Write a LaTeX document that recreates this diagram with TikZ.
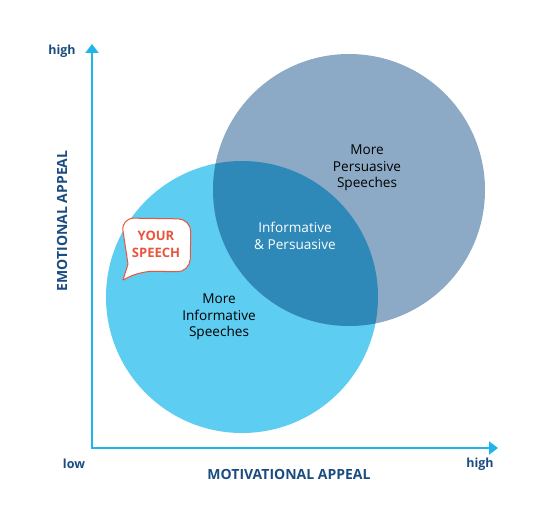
\documentclass[tikz,border=0pt]{standalone}
\usepackage{fontspec}
\setmainfont{Open Sans}
\usetikzlibrary{arrows.meta}
\definecolor{cgray}{HTML}{8CAAC5}
\definecolor{clight}{HTML}{5DCDF1}
\definecolor{cdark}{HTML}{2E89B9}
\definecolor{caxis}{HTML}{1FB5EA}
\definecolor{clabel}{HTML}{1B4C80}
\definecolor{cred}{HTML}{E8553C}
\tikzset{
  axisline/.style={draw=caxis, line width=2.6pt, -{Triangle[width=13pt,length=9pt]}},
  axislabel/.style={text=clabel, font=\bfseries\fontsize{14}{16}\selectfont},
  tick/.style={text=clabel, font=\bfseries\fontsize{12.5}{14}\selectfont},
  circtext/.style={align=center, font=\fontsize{13.6}{16.5}\selectfont},
  bubbletext/.style={align=center, text=cred, font=\bfseries\fontsize{13}{17}\selectfont},
}
\begin{document}
\begin{tikzpicture}[x=1pt,y=-1pt]
\useasboundingbox (0,0) rectangle (556,519);
% circles
\fill[clight] (242,297) circle (136);
\fill[cgray] (349,190) circle (136);
\begin{scope}
  \clip (242,297) circle (136);
  \fill[cdark] (349,190) circle (136);
\end{scope}
% axes
\coordinate (O) at (92,448);
\coordinate (Ytop) at (92,44);
\coordinate (Xend) at (498,448);
\draw[axisline] ([yshift=1.3pt]O) -- (Ytop);
\draw[axisline] ([xshift=-1.3pt]O) -- (Xend);
% axis labels
\node[tick] (yhigh) at (62,51) {high};
\node[tick] (xlow) at (74,464) {low};
\node[tick] (xhigh) at (480,464) {high};
\node[axislabel] (xlab) at (289,474) {MOTIVATIONAL APPEAL};
\node[axislabel, rotate=90] (ylab) at (62,221) {EMOTIONAL APPEAL};
% circle texts
\node[circtext] (pers) at (367,168) {More\\Persuasive\\Speeches};
\node[circtext, text=white] (both) at (295,236) {Informative\\\& Persuasive};
\node[circtext] (info) at (219,317) {More\\Informative\\Speeches};
% speech bubble
\draw[draw=cred, fill=white, line width=1pt, line join=round]
  (123,280) -- (128,264) [rounded corners=13pt] -- (121,218) -- (191,219) -- (190,272) -- (141,271) [sharp corners] -- cycle;
\node[bubbletext] (bubble) at (156,244) {YOUR\\SPEECH};
\end{tikzpicture}
\end{document}
